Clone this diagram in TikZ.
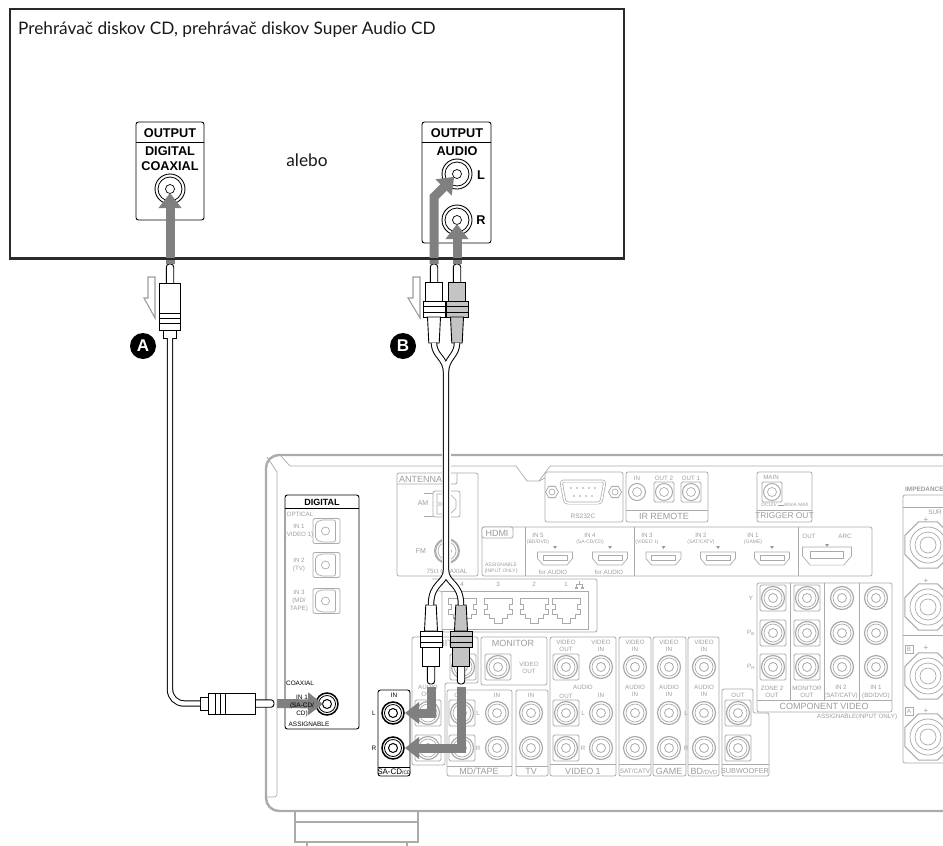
\documentclass[tikz,border=0pt]{standalone}
\usepackage{fontspec}
\setmainfont{Lato}
\newfontfamily\panelfont{Liberation Sans}
\usepackage{xcolor}
\usetikzlibrary{
    arrows.meta,
    shapes.geometric
}
\definecolor{rearline}{HTML}{ABABAB}
\definecolor{reartext}{HTML}{9C9C9C}
\definecolor{flowgray}{HTML}{808080}
\definecolor{plugfill}{HTML}{C4C4C4}
\definecolor{devline}{HTML}{2A2A2A}

\tikzset{
  pics/jack/.style={code={
    \node[draw=rearline, circle, line width=1.2pt, inner sep=0, minimum size=23pt] (-outer) {};
    \node[draw=rearline, circle, line width=0.7pt, inner sep=0, minimum size=18pt] (-ring) {};
    \node[draw=rearline, circle, line width=0.8pt, inner sep=0, minimum size=9pt] (-hole) {};
  }},
  pics/blackjack/.style={code={
    \node[draw=black, circle, line width=1.5pt, inner sep=0, minimum size=22pt] (-outer) {};
    \node[draw=black, circle, line width=0.8pt, inner sep=0, minimum size=17pt] (-ring) {};
    \node[draw=black, circle, line width=1pt, inner sep=0, minimum size=9pt] (-hole) {};
  }},
  pics/smalljack/.style={code={
    \node[draw=rearline, circle, line width=1pt, inner sep=0, minimum size=17pt] (-outer) {};
    \node[draw=rearline, circle, line width=0.7pt, inner sep=0, minimum size=9pt] (-hole) {};
  }},
  pics/bigjack/.style={code={
    \node[draw=black, circle, line width=0.9pt, inner sep=0, minimum size=30pt] (-outer) {};
    \node[draw=black, circle, line width=0.8pt, inner sep=0, minimum size=24pt] (-ring) {};
    \node[draw=black, circle, line width=0.7pt, inner sep=0, minimum size=9pt] (-hole) {};
  }},
  pics/rcaplug/.style={code={
    \coordinate (-tip) at (0,0);
    \draw[plugline, fill=white, rounded corners=3pt] (-3.7,19) -- (-3.7,0) -- (3.7,0) -- (3.7,19);
    \draw[plugline, fill=#1] (-8.5,18) rectangle (8.5,37);
    \draw[plugline, fill=#1] (-11,37) rectangle (11,53);
    \draw[plugline] (-11,42) -- (11,42) (-11,48) -- (11,48);
    \draw[plugline, fill=#1] (-6.5,53) -- (-5.2,79) -- (5.2,79) -- (6.5,53) -- cycle;
    \coordinate (-end) at (0,79);
  }},
  pics/coaxplug/.style={code={
    \coordinate (-tip) at (0,0);
    \draw[plugline, fill=white, rounded corners=3pt] (-3.7,20) -- (-3.7,0) -- (3.7,0) -- (3.7,20);
    \draw[plugline, fill=white] (-6.5,66) rectangle (6.5,74);
    \draw[plugline, fill=white] (-10.5,19) rectangle (10.5,66);
    \draw[plugline] (-10.5,49) -- (10.5,49) (-10.5,54) -- (10.5,54) (-10.5,59) -- (10.5,59);
    \coordinate (-end) at (0,74);
  }},
  pics/hdmiport/.style={code={
    \draw[rearthin, fill=white] (-17.5,-6.5) -- (17.5,-6.5) -- (17.5,0) -- (12,6.5) -- (-12,6.5) -- (-17.5,0) -- cycle;
    \draw[rearthin] (-12,-3) -- (12,-3) -- (12,2) -- (-12,2) -- cycle;
  }},
  pics/rjport/.style={code={
    \draw[rearthin] (-14,-12) -- (14,-12) -- (14,-6) -- (11,-6) -- (11,-1) -- (14,-1) -- (14,4)
      -- (9,4) -- (9,8) -- (4,8) -- (4,13) -- (-4,13) -- (-4,8) -- (-9,8) -- (-9,4)
      -- (-14,4) -- (-14,-1) -- (-11,-1) -- (-11,-6) -- (-14,-6) -- cycle;
  }},
  pics/optport/.style={code={
    \draw[panel] (-13.5,-12.5) rectangle (13.5,12.5);
    \draw[rearthin, rounded corners=2pt] (-11,-8) -- (-6,-11) -- (9,-11) -- (9,11) -- (-6,11) -- (-11,8) -- cycle;
    \node[draw=rearline, circle, line width=0.7pt, inner sep=0, minimum size=8pt] (-hole) at (-1,0) {};
  }},
  pics/speakerport/.style={code={
    \node[draw=rearline, regular polygon, regular polygon sides=8, line width=1pt, inner sep=0, minimum size=50pt] (-oct) {};
    \node[draw=rearline, circle, line width=0.8pt, inner sep=0, minimum size=36pt] (-a) {};
    \node[draw=rearline, circle, line width=0.7pt, inner sep=0, minimum size=26pt] (-b) {};
    \node[draw=rearline, circle, line width=0.7pt, inner sep=0, minimum size=16pt] (-c) {};
  }}
}

\begin{document}
\begin{tikzpicture}[
    x=1pt, y=-1pt,
    plugline/.style={draw=black, line width=0.9pt},
    rearthin/.style={draw=rearline, line width=0.7pt},
    panel/.style={draw=rearline, line width=0.8pt, rounded corners=2pt},
    jackbox/.style={draw=rearline, line width=0.8pt, rounded corners=1.5pt, minimum size=26pt, inner sep=0},
    outbox/.style={draw=black, line width=0.9pt, rounded corners=2.5pt},
    devtext/.style={font=\fontsize{17.25}{20}\selectfont, inner sep=0, text=black!90},
    outtext/.style={font=\panelfont\bfseries\fontsize{12.7}{15}\selectfont, inner sep=0, align=center},
    tinylab/.style={font=\panelfont\fontsize{6.2}{7.6}\selectfont, text=reartext, inner sep=0, align=center},
    midlab/.style={font=\panelfont\fontsize{9}{10}\selectfont, text=reartext, inner sep=0, align=center},
    blacklab/.style={font=\panelfont\fontsize{6.4}{8}\selectfont, text=black, inner sep=0, align=center},
    badge/.style={circle, fill=black, text=white, inner sep=0, minimum size=26pt, font=\panelfont\bfseries\fontsize{17}{17}\selectfont},
    cable/.style={draw=black, line width=1pt, double=white, double distance=4.4pt},
    flow/.style={draw=flowgray, line width=9pt, -{Triangle[width=22pt,length=15pt]}},
    hollow/.style={draw=reartext, line width=1.1pt, fill=white}
  ]
  \useasboundingbox (0,0) rectangle (943,846);

  % receiver body
  \draw[draw=rearline, line width=2.4pt, rounded corners=13pt] (960,811) -- (266,811) -- (266,455) -- (960,455);
  \draw[rearthin] (267,457) -- (277,472) -- (277,792) [rounded corners=3pt] -- (277,797) -- (267,797);
  \draw[rearthin] (280,455) -- (290,466) -- (516,466) -- (527,481) -- (539,481) -- (550,466) -- (950,466);
  \draw[rearthin] (545,478) -- (539,481);
  \draw[draw=rearline, line width=1.2pt] (295,812) -- (295,842) -- (418,842) -- (418,812) (295,822) -- (418,822) (307,842) -- (307,848) (407,842) -- (407,848);

  % antenna
  \draw[panel] (397,473) rectangle (478,576);
  \draw[panel] (397,484) -- (457,484) -- (457,473);
  \node[midlab, anchor=west] (antenna) at (399,479) {ANTENNA};
  \node[tinylab, font=\panelfont\fontsize{7}{8}\selectfont] (amlab) at (423,503) {AM};
  \node[tinylab, font=\panelfont\fontsize{7}{8}\selectfont] (fmlab) at (421,551) {FM};
  \node[tinylab] (coaxlab) at (447,571) {75$\Omega$ COAXIAL};
  \draw[panel] (433,491) rectangle (460,517);
  \draw[rearthin] (437,494) rectangle (444,503) (437,505) rectangle (444,514) (450,494) -- (456,500) -- (456,508) -- (450,514);
  \draw[rearthin] (433,493) -- (424,493) (433,516) -- (424,516);
  \pic (fmjack) at (447,551) {jack};
  \node[draw=rearline, circle, line width=1pt, inner sep=0, minimum size=25pt] (fmring) at (447,551) {};

  % rs232 / remote / trigger
  \draw[panel] (545,472) rectangle (623,522);
  \draw[rearthin, rounded corners=3pt, double=white, double distance=1.5pt] (561,481) -- (605,481) -- (601,503) -- (565,503) -- cycle;
  \foreach \dx in {571,577,583,589,595} \fill[reartext] (\dx,488) circle (0.9);
  \foreach \dx in {574,580,586,592} \fill[reartext] (\dx,496) circle (0.9);
  \foreach \dx [count=\d] in {552,615} {
    \node[draw=rearline, regular polygon, regular polygon sides=6, line width=0.8pt, inner sep=0, minimum size=13pt] (screw\d) at (\dx,492) {};
    \node[draw=rearline, circle, line width=0.7pt, inner sep=0, minimum size=6pt] (screwh\d) at (\dx,492) {};
  }
  \node[tinylab, font=\panelfont\fontsize{6.5}{8}\selectfont] (rslab) at (583,516) {RS232C};
  \draw[panel] (626,472) rectangle (708,522);
  \draw[rearthin] (626,510) -- (708,510);
  \node[midlab] (irlab) at (664,516) {IR REMOTE};
  \draw[panel] (757,472) rectangle (812,522);
  \draw[rearthin] (757,510) -- (812,510);
  \node[midlab, font=\panelfont\fontsize{8.4}{10}\selectfont] (triglab) at (784.5,516) {TRIGGER OUT};
  \foreach \bx [count=\b] in {664,691,772} \node[jackbox, minimum size=20pt] (irbox\b) at (\bx,492) {};
  \foreach \jx [count=\j] in {637,664,691,772} \pic (irjack\j) at (\jx,492) {smalljack};
  \foreach \lx/\ly/\ltxt [count=\l] in {637/478/IN, 664/478/OUT 2, 691/478/OUT 1, 771/477/MAIN} \node[tinylab] (irtxt\l) at (\lx,\ly) {\ltxt};
  \node[tinylab, font=\panelfont\fontsize{4.8}{6}\selectfont] (dclab) at (785,505) {DC12V\,\rule[0.4ex]{6pt}{0.8pt}\,80mA MAX};

  % hdmi
  \draw[panel] (482,527) rectangle (872,576);
  \draw[rearthin] (525,527) -- (525,576) (634,527) -- (634,576) (798,527) -- (798,576);
  \draw[panel, fill=white] (482,527) rectangle (513,538);
  \node[midlab] (hdmilab) at (497,533) {HDMI};
  \node[tinylab, font=\panelfont\fontsize{5}{5.6}\selectfont] (assignlab) at (501,568) {ASSIGNABLE\\(INPUT ONLY)};
  \foreach \hx [count=\h] in {555,610,663.5,718,772} {
    \pic (hdmi\h) at (\hx,558.5) {hdmiport};
    \fill[reartext] (\hx-2,546) -- (\hx+2,546) -- (\hx,549) -- cycle;
  }
  \pic[scale=1.4] (hdmiout) at (827,556) {hdmiport};
  \fill[reartext] (825,544) -- (829,544) -- (827,547) -- cycle;
  \foreach \lx/\ltxt/\lsub [count=\l] in {538/IN 5/{(BD/DVD)}, 590/IN 4/{(SA-CD/CD)}, 647/IN 3/{(VIDEO 1)}, 701/IN 2/{(SAT/CATV)}, 753/IN 1/{(GAME)}} {
    \node[tinylab] (hin\l) at (\lx,535) {\ltxt};
    \node[tinylab, font=\panelfont\fontsize{5}{6}\selectfont] (hsub\l) at (\lx,542) {\lsub};
  }
  \node[tinylab] (houta) at (809,536) {OUT};
  \node[tinylab] (houtb) at (845,536) {ARC};
  \node[tinylab] (houtc) at (553,572) {for AUDIO};
  \node[tinylab] (houtd) at (609,572) {for AUDIO};

  % network
  \draw[panel] (432,579) -- (597,579) -- (597,632) -- (442,632) -- (442,591) -- (432,591);
  \draw[rearthin] (442,591) -- (588,591) -- (588,629) -- (442,629);
  \foreach \rx/\rtxt [count=\r] in {462/4, 498/3, 534/2, 566/1} {
    \pic (rj\r) at (\rx,610) {rjport};
    \node[tinylab] (rjlab\r) at (\rx,584) {\rtxt};
  }
  \draw[rearthin] (579,581) -- (579,584) (576,584) -- (582,584) (576,584) -- (576,587) (582,584) -- (582,587) (575,587) rectangle (577,588.5) (581,587) rectangle (583,588.5);

  % analog panels
  \draw[panel] (412,637) -- (478,637) -- (478,683) -- (445,683) -- (445,765) -- (412,765) -- cycle;
  \draw[panel] (481,637) rectangle (547,685);
  \draw[panel] (447,690) rectangle (512,776);
  \draw[rearthin] (447,766) -- (512,766);
  \draw[panel] (516,690) rectangle (548,776);
  \draw[rearthin] (516,766) -- (548,766);
  \draw[panel] (550,637) rectangle (616,776);
  \draw[rearthin] (550,764) -- (616,764);
  \draw[panel] (619,637) rectangle (651,776);
  \draw[rearthin] (619,764) -- (651,764);
  \draw[panel] (653,637) rectangle (686,776);
  \draw[rearthin] (653,764) -- (686,764);
  \draw[panel] (688,637) rectangle (719,776);
  \draw[rearthin] (688,764) -- (719,764);
  \draw[panel] (722,776) -- (722,689) -- (753,689) -- (753,713) -- (769,713) -- (769,776) -- cycle;
  \draw[rearthin] (722,764) -- (769,764);
  \draw[panel, fill=white] (757,583) rectangle (892,712);
  \draw[rearthin] (757,700) -- (892,700) (790,583) -- (790,700) (824,583) -- (824,700) (859,583) -- (859,700);

  \foreach \bx/\by [count=\b] in {463/667, 428/713, 428/748, 498/667, 462/713, 462/748, 566/667, 566/713, 566/748,
      738/713, 738/748, 773/598, 773/633, 773/667, 807/598, 807/633, 807/667}
    \node[jackbox] (rbox\b) at (\bx,\by) {};
  \foreach \jx/\jy [count=\j] in {463/667, 428/713, 428/748, 498/667, 462/713, 497/713, 462/748, 497/748, 531/713, 531/748,
      566/667, 601/667, 566/713, 601/713, 566/748, 601/748, 635/667, 635/713, 635/748, 669/667, 669/713, 669/748,
      704/667, 704/713, 704/748, 738/713, 738/748, 773/598, 773/633, 773/667, 807/598, 807/633, 807/667,
      842/598, 842/633, 842/667, 876/598, 876/633, 876/667}
    \pic (rjack\j) at (\jx,\jy) {jack};

  \foreach \lx/\ly/\ltxt [count=\l] in {428/691/{AUDIO\\OUT}, 461/695/OUT, 497/695/IN, 531/695/IN, 529/668/{VIDEO\\OUT},
      566/646/{VIDEO\\OUT}, 601/646/{VIDEO\\IN}, 635/646/{VIDEO\\IN}, 669/646/{VIDEO\\IN}, 704/646/{VIDEO\\IN},
      583/687/AUDIO, 566/696/OUT, 601/695/IN, 635/691/{AUDIO\\IN}, 669/691/{AUDIO\\IN}, 704/691/{AUDIO\\IN},
      478/713/L, 478/748/R, 583/713/L, 583/748/R, 686/713/L, 686/748/R, 738/695/OUT,
      751/598/Y, 751/633/P\textsubscript{B}, 751/667/P\textsubscript{R},
      772/692/{ZONE 2\\OUT}, 807/692/{MONITOR\\OUT}, 841/692/{IN 2\\(SAT/CATV)}, 876/692/{IN 1\\(BD/DVD)},
      857/717/{ASSIGNABLE(INPUT ONLY)}}
    \node[tinylab] (rtxt\l) at (\lx,\ly) {\ltxt};
  \foreach \lx/\ly/\ltxt [count=\l] in {445/643/MONITOR, 513/643/MONITOR, 479/771/{MD/TAPE}, 531/771/TV, 583/771/VIDEO 1, 669/771/GAME, 824/706/COMPONENT VIDEO}
    \node[midlab] (rmid\l) at (\lx,\ly) {\ltxt};
  \node[midlab] (bdlab) at (704,771) {BD{\fontsize{6}{7}\selectfont/DVD}};
  \node[midlab, font=\panelfont\fontsize{6.4}{8}\selectfont] (satlab) at (635,771) {SAT/CATV};
  \node[midlab, font=\panelfont\fontsize{7.3}{8}\selectfont] (sublab) at (745,771) {SUBWOOFER};

  % speakers
  \draw[panel] (950,495) -- (903,495) -- (903,763) -- (950,763);
  \draw[rearthin] (903,507) -- (950,507) (903,635) -- (950,635);
  \node[tinylab, font=\panelfont\bfseries\fontsize{6.4}{8}\selectfont, anchor=west] (implab) at (905,489) {IMPEDANCE};
  \node[tinylab, font=\panelfont\fontsize{6.4}{7}\selectfont, anchor=east] (surlab) at (942,512) {SUR};
  \foreach \sy [count=\s] in {545,607,676,737} \pic (spk\s) at (928,\sy) {speakerport};
  \foreach \py [count=\p] in {520.5,581,648,711} \node[tinylab, font=\panelfont\fontsize{8}{8}\selectfont] (plus\p) at (926,\py) {+};
  \node[draw=rearline, line width=0.7pt, inner sep=1pt, tinylab, minimum size=8pt] (spkb) at (909,649) {B};
  \node[draw=rearline, line width=0.7pt, inner sep=1pt, tinylab, minimum size=8pt] (spka) at (909,711) {A};

  % digital panel
  \draw[outbox] (285,729) rectangle (359,495);
  \draw[draw=black, line width=1pt] (285,508) -- (359,508);
  \node[outtext, font=\panelfont\bfseries\fontsize{9}{10}\selectfont] (diglab) at (322,502) {DIGITAL};
  \node[tinylab] (optlab) at (300,514) {OPTICAL};
  \foreach \oy/\ltxt [count=\o] in {531/{IN 1\\(VIDEO 1)}, 565/{IN 2\\(TV)}, 601/{IN 3\\(MD/\\TAPE)}} {
    \node[tinylab] (optin\o) at (299,\oy) {\ltxt};
    \pic (opt\o) at (326.5,\oy) {optport};
  }
  \pic (coaxin) at (327,704) {blackjack};

  % sa-cd inputs
  \draw[outbox, fill=white] (378,690) rectangle (410,776);
  \draw[draw=black, line width=1pt] (378,767) -- (410,767);
  \node[blacklab] (sacdin) at (394,695) {IN};
  \node[blacklab] (sacdl) at (374,713) {L};
  \node[blacklab] (sacdr) at (374,748) {R};
  \node[blacklab, font=\panelfont\fontsize{8}{9}\selectfont] (sacdlab) at (394,771.5) {SA-CD{\fontsize{5}{6}\selectfont/CD}};
  \pic (sacdljack) at (393,713) {blackjack};
  \pic (sacdrjack) at (393,748) {blackjack};

  % player
  \node[draw=devline, line width=2pt, minimum width=614pt, minimum height=249pt, inner sep=0] (player) at (316.5,133) {};
  \node[devtext, anchor=west] (playerlab) at (18,30) {Prehrávač diskov CD, prehrávač diskov Super Audio CD};
  \node[devtext] (alebo) at (307,160) {alebo};
  \draw[outbox] (136,122) rectangle (204,220);
  \draw[draw=black, line width=0.9pt] (136,142) -- (204,142);
  \node[outtext] (outa) at (170,133) {OUTPUT};
  \node[outtext] (diga) at (170,158.5) {DIGITAL\\COAXIAL};
  \draw[outbox] (422,122) rectangle (491,243);
  \draw[draw=black, line width=0.9pt] (422,142) -- (491,142);
  \node[outtext] (outb) at (457,133) {OUTPUT};
  \node[outtext] (audb) at (457,151) {AUDIO};
  \node[outtext] (audl) at (481,175) {L};
  \node[outtext] (audr) at (481,220) {R};
  \pic (coaxout) at (170,189) {bigjack};
  \pic (audljack) at (457,174) {bigjack};
  \pic (audrjack) at (457,220) {bigjack};

  % plugs and cables
  \pic (pa) at (170,264) {coaxplug};
  \pic[rotate=-90] (pc) at (274,703.5) {coaxplug};
  \pic (ul) at (434,264) {rcaplug=white};
  \pic (ur) at (457,264) {rcaplug=plugfill};
  \pic[yscale=-1] (dl) at (431,684) {rcaplug=white};
  \pic[yscale=-1] (dr) at (461,684) {rcaplug=plugfill};
  \coordinate (ytop) at (446,372);
  \coordinate (ybot) at (446,570);
  \draw[draw=white, line width=9pt] (ytop) -- (ybot);
  \draw[cable, rounded corners=14pt] (pa-end) |- (pc-end);
  \draw[cable] (ul-end) .. controls (434,356) and (446,358) .. (ytop)
    (ur-end) .. controls (457,356) and (446,358) .. (ytop) -- (ybot)
    (ybot) .. controls (446,584) and (431,582) .. (dl-end)
    (ybot) .. controls (446,584) and (461,582) .. (dr-end);

  % signal direction
  \draw[flow, shorten >=4pt] (pa-tip) -- (coaxout-hole.center);
  \draw[flow, shorten >=4pt] (ul-tip) -- (434,197) -- (audljack-hole.center);
  \draw[flow, shorten >=4pt] (ur-tip) -- (audrjack-hole.center);
  \draw[flow, shorten <=3pt, shorten >=12pt, -{Triangle[width=21pt,length=14pt]}] (dl-tip) |- (sacdljack-hole.center);
  \draw[flow, shorten <=3pt, shorten >=12pt, -{Triangle[width=21pt,length=14pt]}] (dr-tip) |- (sacdrjack-hole.center);
  \draw[flow, shorten <=3pt, shorten >=4pt] (pc-tip) -- (coaxin-hole.center);
  \draw[hollow] (148,277) -- (155,277) -- (155,318) -- (144,298) -- (148,298) -- cycle;
  \draw[hollow] (413,277) -- (420,277) -- (420,318) -- (408,298) -- (413,298) -- cycle;
  \draw[draw=devline, line width=2pt] (player.south west) -- (player.south east);

  % coaxial input text
  \node[blacklab] (coaxial) at (300,683) {COAXIAL};
  \node[blacklab] (coaxin1) at (302,706) {IN 1\\(SA-CD/\\CD)};
  \node[blacklab] (assignb) at (309,724) {ASSIGNABLE};

  \node[badge] (badgea) at (143,346) {A};
  \node[badge] (badgeb) at (403,346) {B};
\end{tikzpicture}
\end{document}
